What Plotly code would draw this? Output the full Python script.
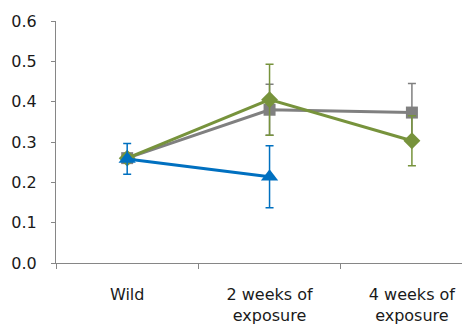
import plotly.graph_objects as go

# Categories on the x axis
categories = ['Wild', '2 weeks of<br>exposure', '4 weeks of<br>exposure']

# Series values (mean and symmetric error)
grey_values = [0.260, 0.380, 0.373]
grey_errors = [0.010, 0.063, 0.072]

green_values = [0.260, 0.405, 0.303]
green_errors = [0.010, 0.088, 0.062]

blue_values = [0.258, 0.214]
blue_errors = [0.038, 0.077]

y_ticks = [0.0, 0.1, 0.2, 0.3, 0.4, 0.5, 0.6]

fig = go.Figure()


def add_series(x, y, err, color, symbol, size):
    """
    Add one line series with markers and error bars
    """
    fig.add_trace(go.Scatter(
        x=x, y=y,
        mode='lines+markers',
        line=dict(color=color, width=3),
        marker=dict(symbol=symbol, size=size, color=color),
        error_y=dict(type='data', array=err, visible=True,
                     color=color, thickness=1.5, width=4),
        showlegend=False,
        cliponaxis=False,
    ))


# Draw order: grey first, then green, then blue on top
add_series(categories, grey_values, grey_errors, '#808080', 'square', 12)
add_series(categories, green_values, green_errors, '#77933C', 'diamond', 13)
add_series(categories[:2], blue_values, blue_errors, '#0070C0', 'triangle-up', 15)

# The page body adds an 8px margin, so the figure is 8px smaller than the window
fig.update_layout(
    width=462, height=321,
    margin=dict(l=48, r=0, t=13, b=66),
    plot_bgcolor='white',
    paper_bgcolor='white',
    font=dict(family='DejaVu Sans', size=16, color='#1a1a1a'),
)

fig.update_xaxes(
    type='category',
    range=[-0.5, 2.408],
    automargin=False,
    showline=True, linecolor='#868686', linewidth=1,
    ticks='outside', tickson='boundaries', ticklen=5, tickcolor='#868686',
    showgrid=False, zeroline=False,
    ticklabelstandoff=17,
)

fig.update_yaxes(
    range=[0, 0.6],
    automargin=False,
    tickvals=y_ticks,
    tickformat='.1f',
    showline=True, linecolor='#868686', linewidth=1,
    ticks='outside', ticklen=4, tickcolor='#868686',
    showgrid=False, zeroline=False,
    ticklabelstandoff=11,
)

fig.write_html("out.html")
